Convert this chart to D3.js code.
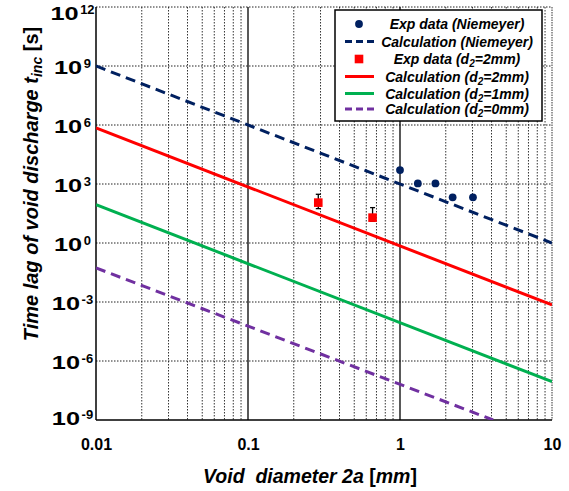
<!DOCTYPE html>
<html><head><meta charset="utf-8">
<script src="https://cdn.jsdelivr.net/npm/d3@7"></script>
<style>
html,body{margin:0;padding:0;background:#fff;}
text{font-family:"Liberation Sans",Arial,sans-serif;font-weight:bold;}
</style></head>
<body><svg id="chart" width="569" height="491"></svg>
<script>
// ---- data ----
const xTickValues = [0.01, 0.1, 1, 10];
const xTickLabels = ["0.01", "0.1", "1", "10"];
const yTickExponents = [12, 9, 6, 3, 0, -3, -6, -9];

// Exp data (Niemeyer)
const niemeyerX = [1.0, 1.31, 1.71, 2.22, 3.02];
const niemeyerY = [5100, 1070, 1070, 210, 210];

// Exp data (d2=2mm)
const expX = [0.29, 0.66];
const expY = [113, 19.5];
const expErrHigh = [300, 63];
const expErrLow = [56, 12.6];

// Calculation lines (end points)
const calcNiemeyerX = [0.01, 10];
const calcNiemeyerY = [1e9, 1];
const calc2mmX = [0.01, 10];
const calc2mmY = [7.1e5, 7.1e-4];
const calc1mmX = [0.01, 10];
const calc1mmY = [89, 8.9e-8];
const calc0mmX = [0.01, 4.1];
const calc0mmY = [0.054, 1e-9];

const legendLabels = [
  {main:"Exp data (Niemeyer)"},
  {main:"Calculation (Niemeyer)"},
  {pre:"Exp data (d", sub:"2", post:"=2mm)"},
  {pre:"Calculation (d", sub:"2", post:"=2mm)"},
  {pre:"Calculation (d", sub:"2", post:"=1mm)"},
  {pre:"Calculation (d", sub:"2", post:"=0mm)"}
];

// ---- layout ----
const L = 96, R = 552, T = 7, B = 420;
const svg = d3.select("#chart");
const x = d3.scaleLog().domain([0.01, 10]).range([L, R]);
const y = d3.scaleLog().domain([1e-9, 1e12]).range([B, T]);

svg.append("defs").append("clipPath").attr("id","clip")
  .append("rect").attr("x",L).attr("y",T).attr("width",R-L).attr("height",B-T);

// minor vertical grid
const minorX = [];
[0.01, 0.1, 1].forEach(d => { for (let k = 2; k <= 9; k++) minorX.push(d * k); });
svg.append("g").selectAll("line").data(minorX).join("line")
  .attr("x1", d => x(d)).attr("x2", d => x(d)).attr("y1", T).attr("y2", B)
  .attr("stroke", "#333").attr("stroke-width", 1).attr("stroke-dasharray", "1.5,1.5");

// horizontal grid
svg.append("g").selectAll("line").data(yTickExponents.filter(e => e > -9)).join("line")
  .attr("x1", L).attr("x2", R).attr("y1", d => y(Math.pow(10, d))).attr("y2", d => y(Math.pow(10, d)))
  .attr("stroke", "#222").attr("stroke-width", 1).attr("stroke-dasharray", "1.5,1.5");

// major vertical grid
svg.append("g").selectAll("line").data([0.1, 1]).join("line")
  .attr("x1", d => x(d)).attr("x2", d => x(d)).attr("y1", T).attr("y2", B)
  .attr("stroke", "#000").attr("stroke-width", 1.3);
svg.append("line").attr("x1", R).attr("x2", R).attr("y1", T).attr("y2", B)
  .attr("stroke", "#333").attr("stroke-width", 1).attr("stroke-dasharray","1.5,1");

// axes
svg.append("line").attr("x1", L).attr("x2", L).attr("y1", T).attr("y2", B).attr("stroke", "#000").attr("stroke-width", 1.5);
svg.append("line").attr("x1", L).attr("x2", R).attr("y1", B).attr("y2", B).attr("stroke", "#000").attr("stroke-width", 1.5);

// x tick labels
const xAxis = d3.axisBottom(x).tickValues(xTickValues).tickFormat((d, i) => xTickLabels[i]).tickSize(0).tickPadding(0);
const gx = svg.append("g").attr("transform", `translate(0,${B})`).call(xAxis);
gx.select(".domain").remove();
gx.selectAll("text").attr("y", 30).attr("dy", 0).attr("font-size", 16).attr("fill","#000")
  .style("font-family", '"Liberation Sans",Arial,sans-serif').style("font-weight","bold");

// y tick labels: wide "10" with superscript exponent, centred near x=72.5
const yLab = svg.append("g");
yTickExponents.forEach(e => {
  const tickY = y(Math.pow(10, e));
  const base = e === 12 ? tickY + 13 : (e === -9 ? tickY + 5 : tickY + 8);
  const g = yLab.append("g");
  const ten = g.append("text").attr("font-size", 17.5).attr("fill", "#000").text("10");
  const sup = g.append("text").attr("font-size", 13).attr("fill", "#000").text(String(e));
  const wTen = ten.node().getComputedTextLength() * 1.45;
  const wSup = sup.node().getComputedTextLength();
  const total = wTen + 1.5 + wSup;
  const start = 72.5 - total / 2;
  ten.attr("transform", `translate(${start},${base}) scale(1.45,1)`);
  sup.attr("x", start + wTen + 1.5).attr("y", base - 6.3);
});

// lines
const line = d3.line().x(d => x(d[0])).y(d => y(d[1]));
const lg = svg.append("g").attr("clip-path", "url(#clip)");
function drawLine(xs, ys, color, dash) {
  lg.append("path").datum(xs.map((v, i) => [v, ys[i]])).attr("d", line)
    .attr("fill", "none").attr("stroke", color).attr("stroke-width", 3)
    .attr("stroke-dasharray", dash || null);
}
drawLine(calcNiemeyerX, calcNiemeyerY, "#002060", "10,6");
drawLine(calc2mmX, calc2mmY, "#FF0000");
drawLine(calc1mmX, calc1mmY, "#00B050");
drawLine(calc0mmX, calc0mmY, "#7030A0", "10,6");

// error bars
const eb = svg.append("g");
expX.forEach((v, i) => {
  const cx = x(v);
  eb.append("line").attr("x1", cx).attr("x2", cx).attr("y1", y(expErrHigh[i])).attr("y2", y(expErrLow[i])).attr("stroke", "#000").attr("stroke-width", 1.3);
  eb.append("line").attr("x1", cx - 2.5).attr("x2", cx + 2.5).attr("y1", y(expErrHigh[i])).attr("y2", y(expErrHigh[i])).attr("stroke", "#000").attr("stroke-width", 1.3);
  eb.append("line").attr("x1", cx - 2.5).attr("x2", cx + 2.5).attr("y1", y(expErrLow[i])).attr("y2", y(expErrLow[i])).attr("stroke", "#000").attr("stroke-width", 1.3);
});
// squares
svg.append("g").selectAll("rect").data(expX).join("rect")
  .attr("x", d => x(d) - 4.3).attr("y", (d, i) => y(expY[i]) - 4.3).attr("width", 8.6).attr("height", 8.6)
  .attr("fill", "#FF0000");
// circles
svg.append("g").selectAll("circle").data(niemeyerX).join("circle")
  .attr("cx", d => x(d)).attr("cy", (d, i) => y(niemeyerY[i])).attr("r", 3.9).attr("fill", "#002060");

// legend
const lgd = svg.append("g");
lgd.append("rect").attr("x", 335).attr("y", 10).attr("width", 207).attr("height", 111)
  .attr("fill", "#fff").attr("stroke", "#000").attr("stroke-width", 1.5);
const rowY = [24, 41.5, 59, 76.5, 93.5, 109];
lgd.append("circle").attr("cx", 359).attr("cy", rowY[0]).attr("r", 3.9).attr("fill", "#002060");
lgd.append("line").attr("x1", 345).attr("x2", 374).attr("y1", rowY[1]).attr("y2", rowY[1]).attr("stroke", "#002060").attr("stroke-width", 3).attr("stroke-dasharray", "7,4");
lgd.append("rect").attr("x", 359 - 4.3).attr("y", rowY[2] - 4.3).attr("width", 8.6).attr("height", 8.6).attr("fill", "#FF0000");
lgd.append("line").attr("x1", 345).attr("x2", 374).attr("y1", rowY[3]).attr("y2", rowY[3]).attr("stroke", "#FF0000").attr("stroke-width", 3);
lgd.append("line").attr("x1", 345).attr("x2", 374).attr("y1", rowY[4]).attr("y2", rowY[4]).attr("stroke", "#00B050").attr("stroke-width", 3);
lgd.append("line").attr("x1", 345).attr("x2", 374).attr("y1", rowY[5]).attr("y2", rowY[5]).attr("stroke", "#7030A0").attr("stroke-width", 3).attr("stroke-dasharray", "7,4");
legendLabels.forEach((lab, i) => {
  const t = lgd.append("text").attr("x", 457).attr("y", rowY[i] + 5).attr("text-anchor", "middle")
    .attr("font-size", 14).attr("font-style", "italic").attr("fill", "#000");
  if (lab.main) t.text(lab.main);
  else {
    t.append("tspan").text(lab.pre);
    t.append("tspan").attr("font-size", 10).attr("dy", 3).text(lab.sub);
    t.append("tspan").attr("dy", -3).text(lab.post);
  }
});

// axis titles
const xt = svg.append("text").attr("x", 310).attr("y", 483).attr("text-anchor", "middle")
  .attr("font-size", 19.5).attr("fill", "#000").attr("xml:space", "preserve").style("white-space", "pre");
xt.append("tspan").attr("font-style", "italic").text("Void  diameter 2a ");
xt.append("tspan").text("[");
xt.append("tspan").attr("font-style", "italic").text("mm");
xt.append("tspan").text("]");

const yt = svg.append("text").attr("transform", "translate(38,184) rotate(-90)").attr("text-anchor", "middle")
  .attr("font-size", 20).attr("fill", "#000");
yt.append("tspan").attr("font-style", "italic").text("Time lag of void discharge t");
yt.append("tspan").attr("font-style", "italic").attr("font-size", 14).attr("dy", 4).text("inc");
yt.append("tspan").attr("dy", -4).text(" [s]");
</script></body></html>
